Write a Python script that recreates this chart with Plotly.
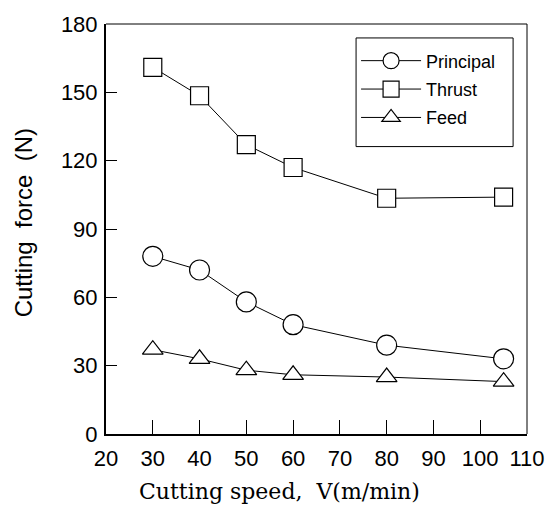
import plotly.graph_objects as go

speed = [30, 40, 50, 60, 80, 105]
principal = [78, 72, 58, 48, 39, 33]
thrust = [161, 148.5, 127, 117, 103.5, 104]
feed = [37, 33, 28, 26, 25, 23]

x_ticks = [20, 30, 40, 50, 60, 70, 80, 90, 100, 110]
y_ticks = [0, 30, 60, 90, 120, 150, 180]

fig = go.Figure()
series = [("Principal", principal, "circle", 20),
          ("Thrust", thrust, "square", 18),
          ("Feed", feed, "triangle-up", 18)]
for name, vals, sym, sz in series:
    fig.add_trace(go.Scatter(
        x=speed, y=vals, name=name, mode="lines+markers", legendgroup=name,
        line=dict(color="black", width=1),
        marker=dict(symbol=sym, size=sz, color="white",
                    line=dict(color="black", width=1.2)),
    ))

fig.update_layout(
    width=557, height=505,
    margin=dict(l=106, r=30, t=19, b=71),
    plot_bgcolor="white", paper_bgcolor="white",
    font=dict(family="Liberation Sans, Arial, sans-serif", color="black", size=22),
    legend=dict(x=0.594, y=0.955, xanchor="left", yanchor="top",
                borderwidth=0, bgcolor="rgba(0,0,0,0)",
                font=dict(size=18), itemwidth=60, tracegroupgap=2),
    showlegend=True,
)
fig.update_xaxes(range=[20, 110], tickvals=x_ticks, ticks="inside", ticklen=14,
                 tickcolor="black", tickwidth=1, showline=True, linecolor="black",
                 linewidth=2, showgrid=False, zeroline=False, ticklabelstandoff=4)
fig.update_yaxes(range=[0, 180], tickvals=y_ticks, ticks="inside", ticklen=11,
                 tickcolor="black", tickwidth=1, showline=True, linecolor="black",
                 linewidth=2, showgrid=False, zeroline=False, ticklabelstandoff=2)
fig.add_shape(type="line", xref="paper", yref="paper", x0=0, x1=1, y0=1, y1=1,
              line=dict(color="black", width=1))
fig.add_shape(type="line", xref="paper", yref="paper", x0=1, x1=1, y0=0, y1=1,
              line=dict(color="black", width=1))
fig.add_shape(type="rect", xref="paper", yref="paper", x0=0.594, x1=0.967,
              y0=0.701, y1=0.966, line=dict(color="black", width=1), layer="below")
fig.add_annotation(text="Cutting speed,\u00a0 V(m/min)", xref="paper", yref="paper",
                   x=0.413, y=-0.14, xanchor="center", yanchor="middle", showarrow=False,
                   font=dict(family="DejaVu Serif, serif", size=22))
fig.add_annotation(text="Cutting\u00a0 force\u00a0 (N)", xref="paper", yref="paper",
                   x=-0.195, y=0.516, xanchor="center", yanchor="middle", showarrow=False,
                   textangle=-90, font=dict(size=24))
fig.write_html("out.html")
